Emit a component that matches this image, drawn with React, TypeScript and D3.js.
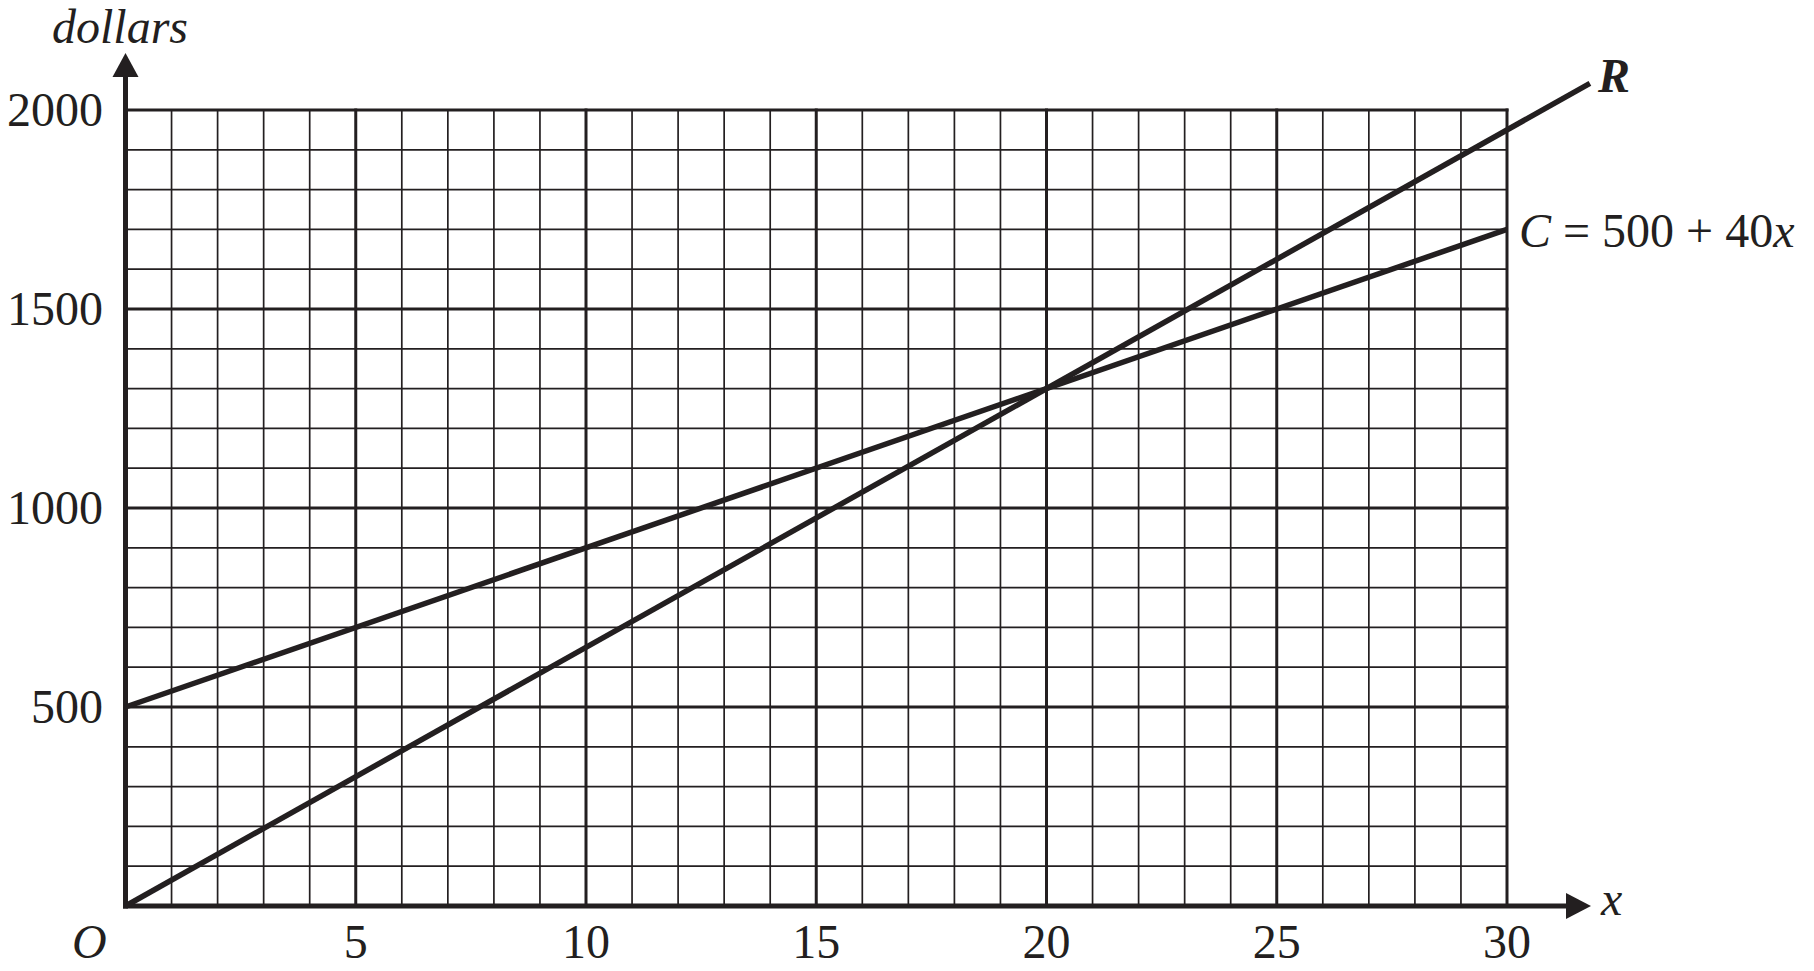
import { useRef, useEffect } from "react";
import * as d3 from "d3";

const xTicks = [5, 10, 15, 20, 25, 30];
const yTicks = [500, 1000, 1500, 2000];

// endpoints of the two lines
const revenueX = [0, 31.8];
const revenueY = [0, 2067];
const costX = [0, 30];
const costY = [500, 1700];

const WIDTH = 1814;
const HEIGHT = 971;
const INK = "#231f20";
const FONT = "'Liberation Serif', 'Times New Roman', serif";

export default function App() {
  const svgRef = useRef<SVGSVGElement>(null);

  useEffect(() => {
    const svg = d3.select(svgRef.current);
    svg.selectAll("*").remove();

    const x = d3.scaleLinear().domain([0, 30]).range([125.5, 1507]);
    const y = d3.scaleLinear().domain([0, 2000]).range([906, 110]);

    const g = svg.append("g");

    // minor grid
    const minorX = d3.range(1, 31).filter((v) => v % 5 !== 0);
    const minorY = d3.range(100, 2001, 100).filter((v) => v % 500 !== 0);

    g.selectAll(".vminor")
      .data(minorX)
      .enter()
      .append("line")
      .attr("x1", (d) => x(d))
      .attr("x2", (d) => x(d))
      .attr("y1", y(0))
      .attr("y2", y(2000))
      .attr("stroke", INK)
      .attr("stroke-width", 1.7);

    g.selectAll(".hminor")
      .data(minorY)
      .enter()
      .append("line")
      .attr("x1", x(0))
      .attr("x2", x(30))
      .attr("y1", (d) => y(d))
      .attr("y2", (d) => y(d))
      .attr("stroke", INK)
      .attr("stroke-width", 1.7);

    // major grid
    g.selectAll(".vmajor")
      .data(xTicks)
      .enter()
      .append("line")
      .attr("x1", (d) => x(d))
      .attr("x2", (d) => x(d))
      .attr("y1", y(0))
      .attr("y2", y(2000) - 1.5)
      .attr("stroke", INK)
      .attr("stroke-width", 3);

    g.selectAll(".hmajor")
      .data(yTicks)
      .enter()
      .append("line")
      .attr("x1", x(0))
      .attr("x2", x(30) + 1.5)
      .attr("y1", (d) => y(d))
      .attr("y2", (d) => y(d))
      .attr("stroke", INK)
      .attr("stroke-width", 3);

    // axes with arrows
    const axisY0 = y(0);
    g.append("line")
      .attr("x1", x(0) - 2.5)
      .attr("x2", 1570)
      .attr("y1", axisY0)
      .attr("y2", axisY0)
      .attr("stroke", INK)
      .attr("stroke-width", 5);
    g.append("path")
      .attr("d", `M1566,${axisY0 - 13} L1591,${axisY0} L1566,${axisY0 + 13} Z`)
      .attr("fill", INK);

    g.append("line")
      .attr("x1", x(0))
      .attr("x2", x(0))
      .attr("y1", axisY0 + 2.5)
      .attr("y2", 74)
      .attr("stroke", INK)
      .attr("stroke-width", 5);
    g.append("path")
      .attr("d", `M${x(0) - 13},77 L${x(0)},53 L${x(0) + 13},77 Z`)
      .attr("fill", INK);

    // lines
    const line = d3
      .line<[number, number]>()
      .x((d) => x(d[0]))
      .y((d) => y(d[1]));

    const series = [
      revenueX.map((v, i) => [v, revenueY[i]] as [number, number]),
      costX.map((v, i) => [v, costY[i]] as [number, number]),
    ];

    series.forEach((pts) => {
      g.append("path")
        .datum(pts)
        .attr("fill", "none")
        .attr("stroke", INK)
        .attr("stroke-width", 5.5)
        .attr("d", line);
    });

    // tick labels
    const text = svg
      .append("g")
      .attr("font-family", FONT)
      .attr("font-size", 48)
      .attr("fill", INK);

    text
      .selectAll(".xt")
      .data(xTicks)
      .enter()
      .append("text")
      .attr("x", (d) => x(d))
      .attr("y", 958)
      .attr("text-anchor", "middle")
      .text((d) => d);

    text
      .selectAll(".yt")
      .data(yTicks)
      .enter()
      .append("text")
      .attr("x", 103)
      .attr("y", (d) => y(d) + 16)
      .attr("text-anchor", "end")
      .text((d) => d);

    text
      .append("text")
      .attr("x", 72)
      .attr("y", 958)
      .attr("font-style", "italic")
      .text("O");

    text
      .append("text")
      .attr("x", 52)
      .attr("y", 43)
      .attr("font-size", 48)
      .attr("font-style", "italic")
      .text("dollars");

    text
      .append("text")
      .attr("x", 1601)
      .attr("y", 915)
      .attr("font-style", "italic")
      .text("x");

    text
      .append("text")
      .attr("x", 1598)
      .attr("y", 92)
      .attr("font-style", "italic")
      .attr("font-weight", "bold")
      .text("R");

    const cLabel = text.append("text").attr("x", 1519).attr("y", 247);
    cLabel.append("tspan").attr("font-style", "italic").text("C");
    cLabel.append("tspan").text(" = 500 + 40");
    cLabel.append("tspan").attr("font-style", "italic").text("x");
  }, []);

  return (
    <svg
      ref={svgRef}
      width={WIDTH}
      height={HEIGHT}
      style={{ position: "absolute", left: 0, top: 0, background: "#fff" }}
    ></svg>
  );
}
